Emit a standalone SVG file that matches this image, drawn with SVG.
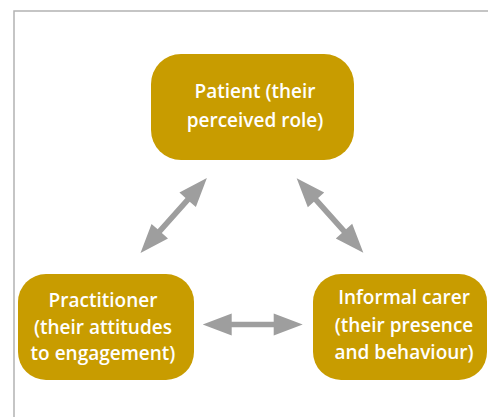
<svg xmlns="http://www.w3.org/2000/svg" xmlns:xlink="http://www.w3.org/1999/xlink" width="488" height="417" viewBox="0 0 488 417">
<style>
.frame{fill:none;stroke:#b3b3b3;stroke-width:1.5}
.box{fill:#c89c00}
.lbl{font-family:"Open Sans","Liberation Sans",sans-serif;font-weight:600;font-size:19px;fill:#ffffff;text-anchor:middle}
.arr{fill:#9e9e9e}
</style>
<defs>
<path id="dbl" d="M-50,0 L-21,-11 L-21,-2.8 L21,-2.8 L21,-11 L50,0 L21,11 L21,2.8 L-21,2.8 L-21,11 Z"/>
</defs>
<rect width="488" height="417" fill="#ffffff"/>
<path class="frame" d="M14,417 L14,11 L488,11"/>
<g id="connectors" class="arr">
<use xlink:href="#dbl" href="#dbl" transform="translate(173.7,215.5) rotate(131.6)"/>
<use xlink:href="#dbl" href="#dbl" transform="translate(330,215.5) rotate(48.2)"/>
<use xlink:href="#dbl" href="#dbl" transform="translate(252.7,324.5)"/>
</g>
<g id="patient">
<rect class="box" x="151" y="54" width="203" height="106" rx="30"/>
<text class="lbl" x="255" y="98">Patient (their</text>
<text class="lbl" x="255" y="127">perceived role)</text>
</g>
<g id="practitioner">
<rect class="box" x="18" y="274" width="176" height="106" rx="28"/>
<text class="lbl" x="103" y="307">Practitioner</text>
<text class="lbl" x="103" y="334">(their attitudes</text>
<text class="lbl" x="103" y="360">to engagement)</text>
</g>
<g id="carer">
<rect class="box" x="313" y="274" width="174" height="106" rx="28"/>
<text class="lbl" x="404" y="304">Informal carer</text>
<text class="lbl" x="404" y="332">(their presence</text>
<text class="lbl" x="404" y="359">and behaviour)</text>
</g>
</svg>
